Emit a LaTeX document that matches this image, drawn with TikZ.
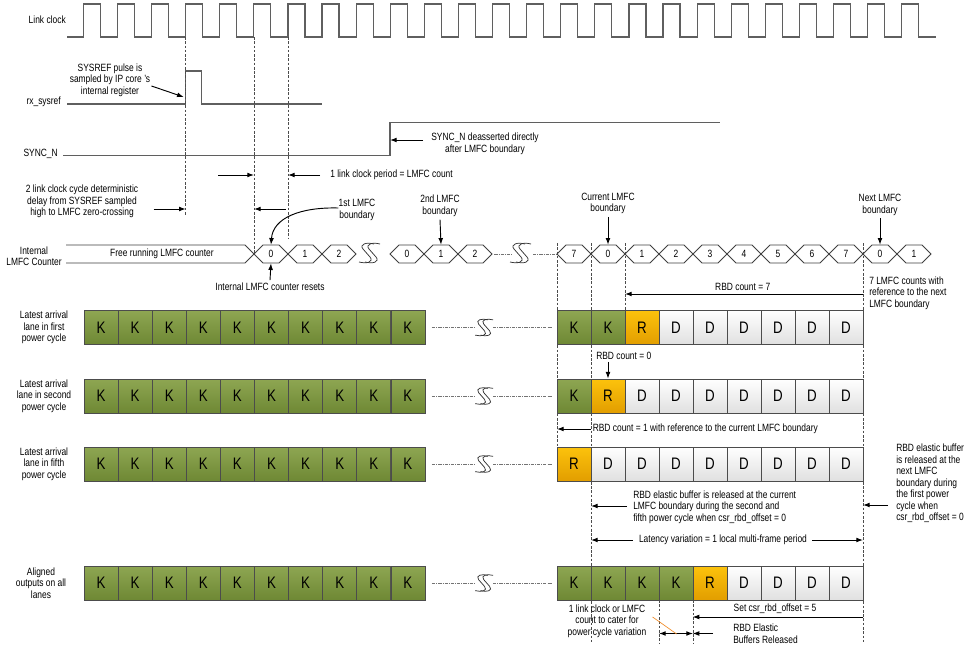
\documentclass[tikz,border=0pt]{standalone}
\usepackage{fontspec}
\setmainfont{Liberation Sans}[FakeStretch=0.8]
\usetikzlibrary{arrows.meta, positioning, calc}

\definecolor{kgreen}{RGB}{142,166,82}
\definecolor{kgreendark}{RGB}{110,136,52}
\definecolor{rgold}{RGB}{252,194,12}
\definecolor{rgolddark}{RGB}{226,158,0}
\definecolor{dgray}{RGB}{224,224,224}
\definecolor{wavegray}{RGB}{95,95,95}
\definecolor{leadorange}{RGB}{240,140,40}

\begin{document}
\begin{tikzpicture}[
    x=0.75pt, y=-0.75pt,
    every node/.style={font=\fontsize{7.9}{8.6}\selectfont, inner sep=0pt},
    lbl/.style={align=center},
    note/.style={align=left, anchor=west},
    wave/.style={draw=wavegray, line width=0.9pt},
    bus/.style={draw=black!75, line width=0.55pt},
    guide/.style={draw=black!70, line width=0.45pt, dash pattern=on 2pt off 1.2pt},
    link/.style={draw=black!55, line width=0.45pt, dash pattern=on 2.5pt off 0.8pt on 0.6pt off 0.8pt},
    hexlbl/.style={minimum width=25.5pt, minimum height=13.5pt},
    cell/.style={rectangle, draw=black!70, line width=0.6pt, minimum width=25.5pt, minimum height=25.5pt, font=\fontsize{12.5}{14}\selectfont},
    kbox/.style={cell, top color=kgreen, bottom color=kgreendark},
    rbox/.style={cell, top color=rgold, bottom color=rgolddark},
    dbox/.style={cell, top color=white, bottom color=dgray},
    arrow/.style={-{Latex[length=5pt, width=3.6pt]}, line width=0.7pt},
    twoway/.style={{Latex[length=5pt, width=3.6pt]}-{Latex[length=5pt, width=3.6pt]}, line width=0.7pt},
    brk/.pic={
        \foreach \dx in {0,6}
            \draw[line width=0.55pt, black!80, xshift=\dx*0.75pt] (7,-9) .. controls (0,-11) and (-8,-9) .. (-4,-4) -- (3,4) .. controls (7,9) and (0,11) .. (-8,9);
    }
]

\fill[white] (0,0) rectangle (972,646);
\useasboundingbox (0,0) rectangle (972,646);

% ============ SIGNALS ============
\node[anchor=east] (clklab) at (66,20) {Link clock};
\node[anchor=east] (syslab) at (61,102) {rx\_sysref};
\node[anchor=east] (synclab) at (58,154) {SYNC\_N};

\draw[wave] (67,37) \foreach \k in {0,...,24} {-- ({83.3+34.1*\k},37) -- ++(0,-33) -- ++(17,0) -- ++(0,33)} -- (936,37);
\draw[wave] (67,104) -- (185.7,104) coordinate (srise) -- (185.7,71) -- (201.7,71) -- (201.7,104) -- (321.7,104);
\draw[wave] (63,155.7) -- (390,155.7) coordinate (nrise) -- (390,122.7) -- (720,122.7);

% ============ GUIDES ============
\foreach \n/\x/\ya/\yb in {g186/185.7/37/215, g254/254/37/254, g288/288/37/238,
    g557/557/243/481, g591/591/243/643, g625/625/243/310, g863/863/243/643,
    g659/659/600/643, g693/693/600/643}
    \draw[guide] (\x,\ya) coordinate (\n) -- (\x,\yb);

% ============ NOTES (TOP) ============
\node[lbl] (sysnote) at (110,80) {SYSREF pulse is\\sampled by IP core 's\\internal register};
\draw[arrow] ($(sysnote.east)+(1,6)$) -- ($(srise)+(-2,-7)$);

\node[lbl] (syncnote) at (485,144) {SYNC\_N deasserted directly\\after LMFC boundary};
\draw[arrow] ($(nrise |- syncnote)+(33,-4)$) -- ($(nrise |- syncnote)+(0,-4)$);

\node[anchor=west] (lkp) at (330,175) {1 link clock period = LMFC count};
\draw[arrow] ($(g254 |- lkp.west)+(-36,0)$) -- (g254 |- lkp.west);
\draw[arrow] ($(lkp.west)+(-10,0)$) -- (g288 |- lkp.west);

\node[lbl] (det) at (82,201.5) {2 link clock cycle deterministic\\delay from SYSREF sampled\\high to LMFC zero-crossing};
\draw[arrow] ($(g186 |- det)+(-32,7.5)$) -- ($(g186 |- det)+(0,7.5)$);
\draw[arrow] ($(g288 |- det)+(-2,7.5)$) -- ($(g254 |- det)+(0,7.5)$);

% ============ LMFC COUNTER ============
\node[lbl] (lmfclab) at (34,256) {Internal\\LMFC Counter};
\draw[bus] (66,245) -- (245,245) -- (254,254) -- (245,263) -- (66,263);
\node (free) at (162,254) {Free running LMFC counter};

\foreach \lab [count=\i from 0] in {0,1,2} {
    \draw[bus] ({254+34*\i},254) -- ++(9,-9) -- ++(16,0) -- ++(9,9) -- ++(-9,9) -- ++(-16,0) -- cycle;
    \node[hexlbl] (ca\i) at ({271+34*\i},254) {\lab};
}
\pic at (367,253) {brk};
\foreach \lab [count=\i from 0] in {0,1,2} {
    \draw[bus] ({390+34*\i},254) -- ++(9,-9) -- ++(16,0) -- ++(9,9) -- ++(-9,9) -- ++(-16,0) -- cycle;
    \node[hexlbl] (cb\i) at ({407+34*\i},254) {\lab};
}
\draw[link] (cb2.east) ++(2,0) -- ++(17,0);
\pic at (518,253) {brk};
\draw[link] (533,254) -- (557,254);
\foreach \lab [count=\i from 0] in {7,0,1,2,3,4,5,6,7,0,1} {
    \draw[bus] ({557+34*\i},254) -- ++(9,-9) -- ++(16,0) -- ++(9,9) -- ++(-9,9) -- ++(-16,0) -- cycle;
    \node[hexlbl] (cc\i) at ({574+34*\i},254) {\lab};
}

% boundaries
\node[lbl] (b1st) at (357,210) {1st LMFC\\boundary};
\draw[arrow] ([yshift=1.5pt]b1st.west) .. controls (300,207) and (273,218) .. (ca0.north);
\node[lbl] (b2nd) at (440,206) {2nd LMFC\\boundary};
\draw[arrow] ([yshift=-2pt]b2nd.south) -- (cb1.north);
\node[lbl] (bcur) at (608,203.5) {Current LMFC\\boundary};
\draw[arrow] ([yshift=-2pt]bcur.south) -- (cc1.north);
\node[lbl] (bnext) at (880,205) {Next LMFC\\boundary};
\draw[arrow] ([yshift=-2pt]bnext.south) -- (cc9.north);

\node (reset) at (270,287) {Internal LMFC counter resets};
\draw[arrow] ([yshift=2pt]reset.north) -- (ca0.south);

% ============ LANES ============
\node[lbl] (lab1) at (44,327.5) {Latest arrival\\lane in first\\power cycle};
\node[lbl] (lab2) at (44,396) {Latest arrival\\lane in second\\power cycle};
\node[lbl] (lab3) at (44,464) {Latest arrival\\lane in fifth\\power cycle};
\node[lbl] (lab4) at (41,583) {Aligned\\outputs on all\\lanes};

\foreach \r/\y in {1/327.5, 2/396, 3/464, 4/583} {
    \foreach \i in {0,...,9}
        \node[kbox] (k\r-\i) at ({101+34.1*\i},\y) {K};
    \draw[link] ([xshift=5pt]k\r-9.east) -- ++(43,0);
    \pic[scale=0.85] at (482,\y) {brk};
    \draw[link] (493,\y) -- (552,\y);
}

\foreach \s/\c [count=\i from 0] in {kbox/K, kbox/K, rbox/R, dbox/D, dbox/D, dbox/D, dbox/D, dbox/D, dbox/D}
    \node[\s] (r1-\i) at ({574+34*\i},327.5) {\c};
\foreach \s/\c [count=\i from 0] in {kbox/K, rbox/R, dbox/D, dbox/D, dbox/D, dbox/D, dbox/D, dbox/D, dbox/D}
    \node[\s] (r2-\i) at ({574+34*\i},396) {\c};
\foreach \s/\c [count=\i from 0] in {rbox/R, dbox/D, dbox/D, dbox/D, dbox/D, dbox/D, dbox/D, dbox/D, dbox/D}
    \node[\s] (r3-\i) at ({574+34*\i},464) {\c};
\foreach \s/\c [count=\i from 0] in {kbox/K, kbox/K, kbox/K, kbox/K, rbox/R, dbox/D, dbox/D, dbox/D, dbox/D}
    \node[\s] (r4-\i) at ({574+34*\i},583) {\c};

% ============ NOTES (RIGHT) ============
\node (rbd7) at (742.7,287) {RBD count = 7};
\draw[arrow] ($(g863 |- rbd7)+(0,7)$) -- ($(g625 |- rbd7)+(0,7)$);
\node[note] (next7) at (869,293) {7 LMFC counts with\\reference to the next\\LMFC boundary};

\node[note] (rbd0) at (596,356) {RBD count = 0};
\draw[arrow] ($(r2-1.north |- rbd0.south)+(0,2)$) -- (r2-1.north);

\node[note] (rbd1) at (592.5,429) {RBD count = 1 with reference to the current LMFC boundary};
\draw[arrow] ($(rbd1.west)+(-2,0)$) -- (g557 |- rbd1.west);

\node[note] (relnext) at (896,483.5) {RBD elastic buffer\\is released at the\\next LMFC\\boundary during\\the first power\\cycle when\\csr\_rbd\_offset = 0};
\draw[arrow] ($(relnext.west)+(-8,21.5)$) -- ($(g863 |- relnext.west)+(0,21.5)$);

\node[note] (relcur) at (633,507) {RBD elastic buffer is released at the current\\LMFC boundary during the second and\\fifth power cycle when csr\_rbd\_offset = 0};
\draw[arrow] ($(relcur.west)+(-6,-1)$) -- ($(g591 |- relcur.west)+(0,-1)$);

\node (lat) at (723,540) {Latency variation = 1 local multi-frame period};
\draw[arrow] ($(lat.west)+(-6,0)$) -- (g591 |- lat.west);
\draw[arrow] ($(lat.east)+(5,0)$) -- (g863 |- lat.east);

% ============ NOTES (BOTTOM) ============
\node (setoff) at (775,609) {Set csr\_rbd\_offset = 5};
\draw[arrow] ($(g863 |- setoff)+(0,8)$) -- ($(r4-4.south west |- setoff)+(0,8)$);

\node[note] (released) at (733,633.5) {RBD Elastic\\Buffers Released};
\draw[arrow] ($(released.west)+(-20,0)$) -- (r4-4.south west |- released.west);

\node[lbl] (cater) at (607,621) {1 link clock or LMFC\\count to cater for\\power cycle variation};
\draw[twoway] (g659 |- released.west) -- (g693 |- released.west);
\draw[leadorange, line width=0.5pt] ($(cater.east)+(6,-4)$) -- ++(24,17);

\end{tikzpicture}
\end{document}
